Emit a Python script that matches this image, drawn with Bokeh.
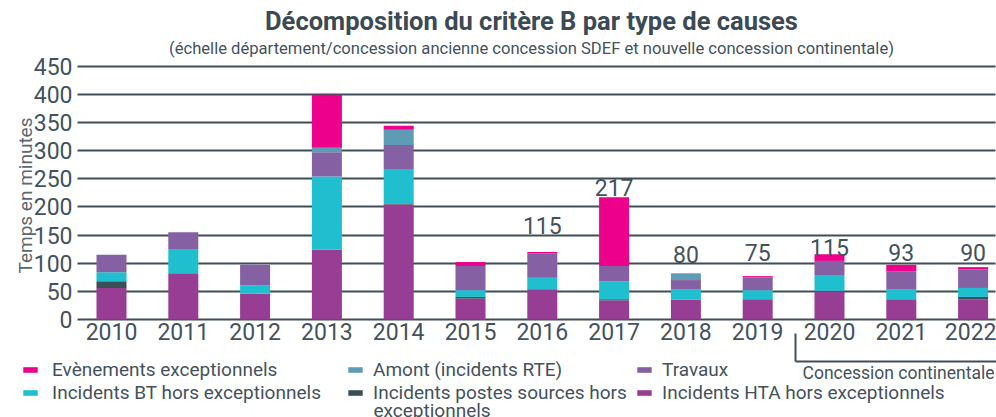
from math import pi
from bokeh.plotting import figure
from bokeh.models import (Range1d, FixedTicker, Legend, LegendItem, Label, Arrow,
                          ColumnDataSource)
from bokeh.core.properties import value
from bokeh.embed import file_html
from bokeh.resources import INLINE

# ---------------- data ----------------
years = [2010, 2011, 2012, 2013, 2014, 2015, 2016, 2017, 2018, 2019, 2020, 2021, 2022]
hta = [56, 82, 46, 124, 204, 37, 53, 34, 35, 36, 50, 35, 36]
postes = [12, 0, 0, 0, 1, 3, 1, 2, 0, 0, 1, 1, 4]
bt = [16, 43, 15, 130, 62, 12, 20, 32, 19, 16, 28, 18, 16]
travaux = [31, 30, 36, 43, 43, 43, 43, 27, 16, 23, 25, 31, 33]
amont = [0, 0, 0, 8, 27, 0, 0, 0, 12, 0, 0, 0, 0]
exceptionnels = [0, 0, 0, 94, 7, 7, 3, 122, 0, 2, 12, 12, 4]

label_years = [2016, 2017, 2018, 2019, 2020, 2021, 2022]
label_texts = ["115", "217", "80", "75", "115", "93", "90"]
label_heights = [152, 220, 102, 105, 114, 105, 105]

y_ticks = [0, 50, 100, 150, 200, 250, 300, 350, 400, 450]

series_keys = ["hta", "postes", "bt", "travaux", "amont", "exc"]
colors = ["#973D93", "#3C4F58", "#20BFCF", "#8560A3", "#5E9BB5", "#EC008C"]

title_text = "Décomposition du critère B par type de causes"
subtitle_text = ("(échelle département/concession ancienne concession SDEF "
                 "et nouvelle concession continentale)")

# ---------------- geometry (frame = whole canvas) ----------------
W, H = 996, 417
PX_X = 71.8            # px per year
PXU = 0.5633           # px per minute
ZERO_PX = 319          # y pixel of value 0
X0 = 2010 - 111 / PX_X
X1 = X0 + W / PX_X
Y1 = ZERO_PX / PXU
Y0 = -(H - ZERO_PX) / PXU


def dx(px):
    return X0 + px / PX_X


def dy(py):
    return (ZERO_PX - py) / PXU


FONT = "Roboto"
TXT = "#44525D"
LINE = "#3F4E59"

p = figure(width=W, height=H, x_range=Range1d(X0, X1), y_range=Range1d(Y0, Y1),
           output_backend="svg", toolbar_location=None,
           min_border_left=0, min_border_right=0, min_border_top=0, min_border_bottom=0)
p.title.visible = False
p.outline_line_color = None
p.background_fill_color = "white"
p.border_fill_color = "white"
p.xgrid.visible = False
p.ygrid.visible = False

src = ColumnDataSource(dict(year=years, hta=hta, postes=postes, bt=bt,
                            travaux=travaux, amont=amont, exc=exceptionnels))
renderers = p.vbar_stack(series_keys, x="year", width=0.418, color=colors,
                         line_color=None, source=src)
rmap = dict(zip(series_keys, renderers))

# axes drawn inside the frame
yax = p.yaxis[0]
yax.fixed_location = dx(77)
yax.ticker = FixedTicker(ticks=y_ticks)
yax.axis_line_color = None
yax.minor_tick_line_color = None
yax.major_tick_out = 0
yax.major_tick_in = 918
yax.major_tick_line_color = LINE
yax.major_tick_line_width = 2
yax.major_label_standoff = 5
yax.level = "underlay"

xax = p.xaxis[0]
xax.fixed_location = 0
xax.ticker = FixedTicker(ticks=years)
xax.major_label_overrides = {y: str(y) for y in years}
xax.axis_line_color = None
xax.major_tick_line_color = None
xax.minor_tick_line_color = None
xax.major_tick_out = 0
xax.major_tick_in = 0
xax.major_label_standoff = 3

for ax in (xax, yax):
    ax.major_label_text_font = FONT
    ax.major_label_text_font_size = "23px"
    ax.major_label_text_color = TXT

# value labels
lsrc = ColumnDataSource(dict(x=label_years, y=label_heights, t=label_texts))
p.text(x="x", y="y", text="t", source=lsrc, text_font=value(FONT),
       text_font_size="23px", text_align="center", text_baseline="alphabetic",
       y_offset=-8, text_color=TXT)

# titles
p.add_layout(Label(x=dx(531), y=dy(20), text=title_text, text_font=FONT,
                   text_font_size="25.5px", text_font_style="bold",
                   text_color="#3B4A55", text_align="center", text_baseline="middle"))
p.add_layout(Label(x=dx(531), y=dy(48), text=subtitle_text, text_font=FONT,
                   text_font_size="16.6px", text_color=TXT,
                   text_align="center", text_baseline="middle"))
p.add_layout(Label(x=dx(25), y=dy(195), text="Temps en minutes", angle=pi / 2,
                   text_font=FONT, text_font_size="19px", text_color="#5B6770",
                   text_align="center", text_baseline="middle"))

# bracket "Concession continentale"
p.add_layout(Arrow(x_start=dx(795), y_start=dy(333), x_end=dx(795), y_end=dy(361),
                   end=None, line_color=LINE, line_width=2))
p.add_layout(Arrow(x_start=dx(795), y_start=dy(361), x_end=dx(998), y_end=dy(361),
                   end=None, line_color=LINE, line_width=2))
p.add_layout(Label(x=dx(898), y=dy(372), text="Concession continentale",
                   text_font=FONT, text_font_size="17.5px", text_color=TXT,
                   text_align="center", text_baseline="middle"))


# legend
def make_legend(items, px_left, standoff):
    leg = Legend(items=items, location=(px_left, H - 404),
                 orientation="vertical", glyph_width=18, glyph_height=7,
                 label_standoff=standoff, spacing=0, padding=0, margin=0,
                 border_line_color=None, background_fill_alpha=0,
                 label_height=21, label_text_font=FONT, label_text_font_size="19px",
                 label_text_color=TXT)
    p.add_layout(leg)


make_legend([LegendItem(label="Evènements exceptionnels", renderers=[rmap["exc"]]),
             LegendItem(label="Incidents BT hors exceptionnels", renderers=[rmap["bt"]])], 21, 13)
make_legend([LegendItem(label="Amont (incidents RTE)", renderers=[rmap["amont"]]),
             LegendItem(label="Incidents postes sources hors", renderers=[rmap["postes"]])], 346, 9)
make_legend([LegendItem(label="Travaux", renderers=[rmap["travaux"]]),
             LegendItem(label="Incidents HTA hors exceptionnels", renderers=[rmap["hta"]])], 635, 9)
p.add_layout(Label(x=dx(373), y=dy(410), text="exceptionnels", text_font=FONT,
                   text_font_size="19px", text_color=TXT,
                   text_align="left", text_baseline="middle"))

open("out.html", "w").write(file_html(p, INLINE))
